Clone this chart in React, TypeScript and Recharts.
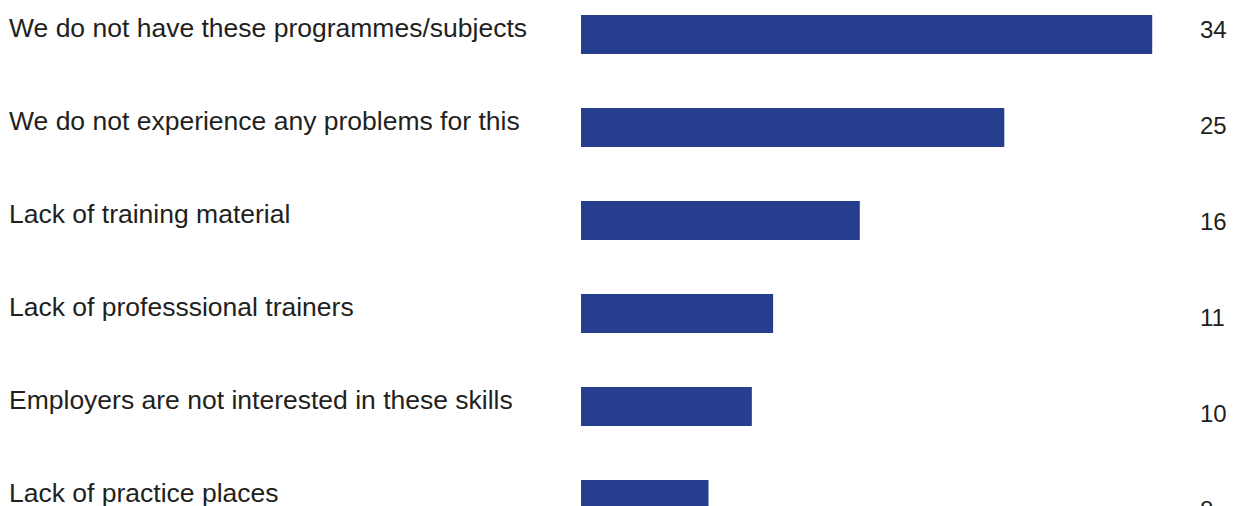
import { ComposedChart, Bar, Line, XAxis, YAxis } from "recharts";

const categories = [
  "We do not have these programmes/subjects",
  "We do not experience any problems for this",
  "Lack of training material",
  "Lack of professsional trainers",
  "Employers are not interested in these skills",
  "Lack of practice places",
];
const values = [33.6, 24.9, 16.4, 11.3, 10.05, 7.5];
const valueLabels = ["34", "25", "16", "11", "10", "8"];

const data = categories.map((name, i) => ({ name, value: values[i], label: valueLabels[i] }));

const BAR_COLOR = "#253f8e";
const TEXT_COLOR = "#231f20";
const FONT = "'Liberation Sans', Arial, sans-serif";

function NameTick(props: any) {
  const { y, payload } = props;
  return (
    <text x={9} y={y + 2} fill={TEXT_COLOR} fontSize={26.5} fontFamily={FONT} textAnchor="start">
      {payload.value}
    </text>
  );
}

function ValueTick(props: any) {
  const { x, y, payload } = props;
  return (
    <text x={x - 1} y={y + 8.5} fill={TEXT_COLOR} fontSize={24} fontFamily={FONT} textAnchor="start">
      {payload.value}
    </text>
  );
}

export default function App() {
  return (
    <div style={{ position: "absolute", left: 0, top: -19, background: "#fff" }}>
      <ComposedChart
        width={1235}
        height={576}
        data={data}
        layout="vertical"
        margin={{ top: 0, right: 0, bottom: 0, left: 0 }}
      >
        <XAxis type="number" domain={[0, 36]} hide />
        <YAxis
          yAxisId="names"
          type="category"
          dataKey="name"
          width={581}
          axisLine={false}
          tickLine={false}
          padding={{ top: 7, bottom: 11 }}
          interval={0}
          tick={<NameTick />}
        />
        <YAxis
          yAxisId="vals"
          type="category"
          dataKey="label"
          orientation="right"
          width={42}
          axisLine={false}
          tickLine={false}
          interval={0}
          tick={<ValueTick />}
        />
        <Bar yAxisId="names" dataKey="value" fill={BAR_COLOR} barSize={39} isAnimationActive={false} />
        <Line
          yAxisId="vals"
          dataKey="value"
          stroke="none"
          dot={false}
          activeDot={false}
          legendType="none"
          isAnimationActive={false}
        />
      </ComposedChart>
    </div>
  );
}
